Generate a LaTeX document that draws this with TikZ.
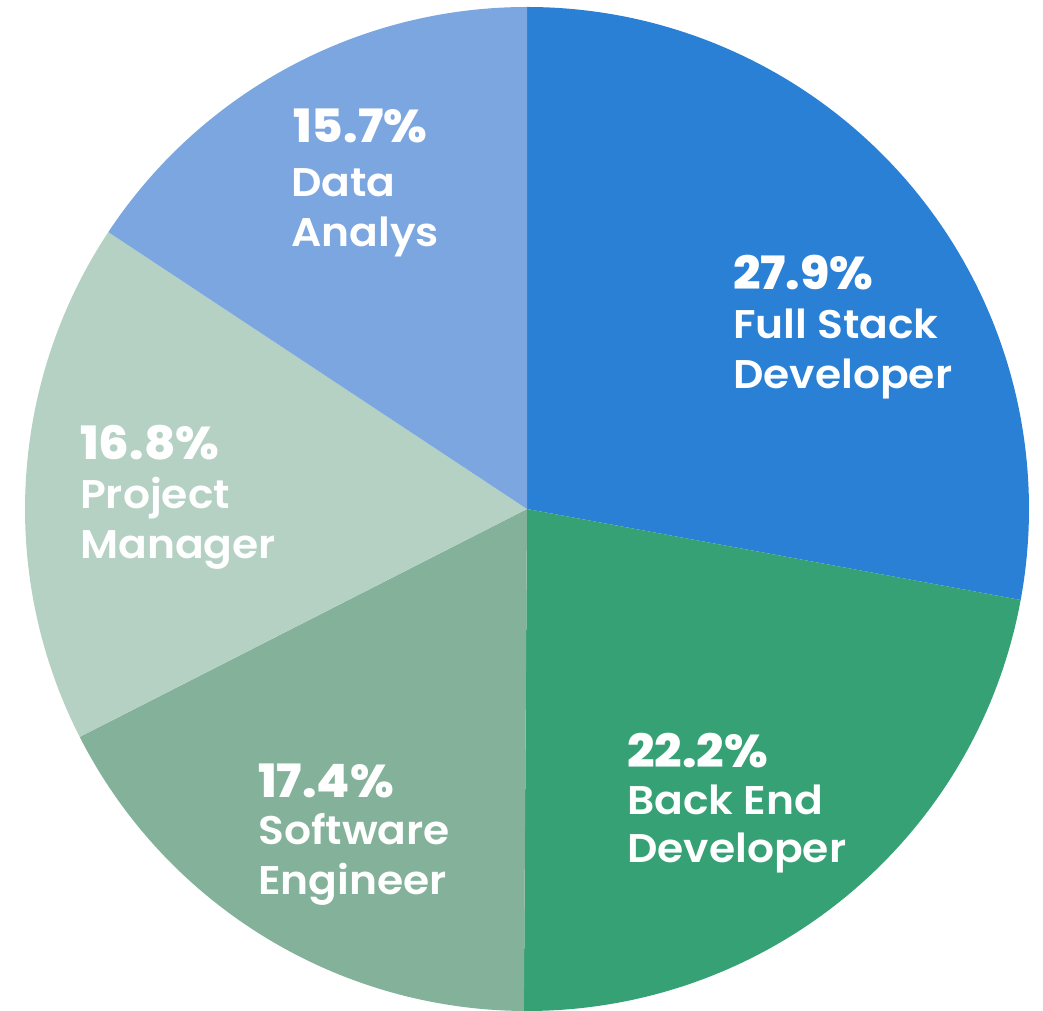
\documentclass[tikz,border=0pt]{standalone}
\usepackage{fontspec}
\setmainfont{Poppins}
\newfontfamily\labfont[FakeStretch=1.06]{Poppins SemiBold}
\newfontfamily\pctfont[FakeStretch=1.05]{Poppins ExtraBold}
\definecolor{cfs}{HTML}{2A80D5}
\definecolor{cbe}{HTML}{37A176}
\definecolor{cse}{HTML}{83B19A}
\definecolor{cpm}{HTML}{B4D1C4}
\definecolor{cda}{HTML}{7CA6DF}
\begin{document}
\begin{tikzpicture}[x=1pt,y=1pt,
  pct/.style={anchor=base west,inner sep=0pt,text=white,font=\fontsize{46}{52}\selectfont\pctfont},
  lab/.style={anchor=base west,inner sep=0pt,text=white,font=\fontsize{40}{48}\selectfont\labfont}]
\useasboundingbox (0,0) rectangle (1043,1010);
\coordinate (c) at (527,501);
\def\R{502}
\fill[cfs] (c) -- ++(90:\R) arc[start angle=90,end angle=-10.44,radius=\R] -- cycle;
\fill[cbe] (c) -- ++(-10.44:\R) arc[start angle=-10.44,end angle=-90.36,radius=\R] -- cycle;
\fill[cse] (c) -- ++(-90.36:\R) arc[start angle=-90.36,end angle=-153,radius=\R] -- cycle;
\fill[cpm] (c) -- ++(-153:\R) arc[start angle=-153,end angle=-213.48,radius=\R] -- cycle;
\fill[cda] (c) -- ++(146.52:\R) arc[start angle=146.52,end angle=90,radius=\R] -- cycle;
% Full stack
\node[pct] (fsp) at (733,1010-290) {27.9\%};
\node[lab] (fs1) at (733,1010-339) {Full Stack};
\node[lab] (fs2) at (733,1010-389) {Developer};
% Back end
\node[pct] (bep) at (627,1010-767) {22.2\%};
\node[lab] (be1) at (627,1010-814) {Back End};
\node[lab] (be2) at (627,1010-862) {Developer};
% Software engineer
\node[pct] (sep) at (258,1010-797) {17.4\%};
\node[lab] (se1) at (258,1010-844) {Software};
\node[lab] (se2) at (258,1010-894) {Engineer};
% Project manager
\node[pct] (pmp) at (80,1010-460) {16.8\%};
\node[lab] (pm1) at (80,1010-509) {Project};
\node[lab] (pm2) at (80,1010-559) {Manager};
% Data analys
\node[pct] (dap) at (293,1010-143) {15.7\%};
\node[lab] (da1) at (291,1010-197) {Data};
\node[lab] (da2) at (291,1010-247) {Analys};
\end{tikzpicture}
\end{document}
